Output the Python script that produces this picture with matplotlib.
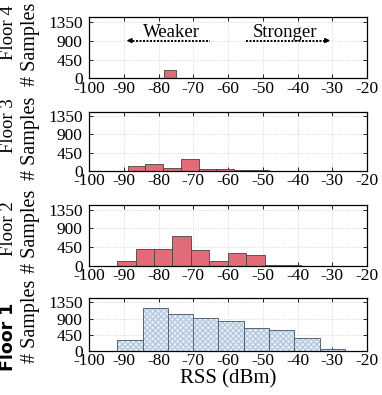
import numpy as np
import matplotlib
matplotlib.use('Agg')
import matplotlib.pyplot as plt

plt.rcParams['font.family'] = ['Liberation Serif', 'DejaVu Serif']
plt.rcParams['axes.unicode_minus'] = False

# RSS histograms per floor (left bin edge, bin width, sample count)
floor4_left = [-87.9, -84.7, -81.5, -78.3, -75.1, -71.9, -68.7]
floor4_width = 3.2
floor4_count = [6, 5, 3, 210, 0, 3, 2]

floor3_left = [-88.9, -83.8, -78.7, -73.6, -68.5, -63.4, -58.3, -53.2, -48.1, -43.0]
floor3_width = 5.1
floor3_count = [113, 162, 81, 299, 48, 40, 24, 16, 0, 8]

floor2_left = [-91.9, -86.6, -81.3, -76.0, -70.7, -65.4, -60.1, -54.8, -49.5, -44.2]
floor2_width = 5.3
floor2_count = [115, 407, 391, 721, 384, 115, 307, 253, 15, 8]

floor1_left = [-91.9, -84.6, -77.4, -70.1, -62.8, -55.5, -48.2, -40.9, -33.6]
floor1_width = 7.3
floor1_count = [318, 1182, 1032, 926, 847, 644, 582, 353, 44]

floor_names = ['Floor 4', 'Floor 3', 'Floor 2', 'Floor 1']
xticks = np.arange(-100, -19, 10)
yticks = [0, 450, 900, 1350]

red = '#e36b78'
edge = '#444444'

fig = plt.figure(figsize=(3.82, 3.95), dpi=100)
left, width = 0.233, 0.728
boxes = [(0.8013, 0.1557), (0.5671, 0.150), (0.3278, 0.153), (0.1114, 0.133)]
axes = [fig.add_axes([left, b, width, h]) for b, h in boxes]

for ax in axes:
    ax.set_xlim(-100, -20)
    ax.set_ylim(0, 1460)
    ax.set_xticks(xticks)
    ax.set_yticks(yticks)
    ax.tick_params(direction='in', top=True, right=True, labelsize=12.5,
                   length=3, width=0.6)
    ax.tick_params(axis='x', pad=1.5)
    ax.tick_params(axis='y', pad=4.5)
    ax.grid(True, linestyle=':', color='#cccccc', lw=0.6)
    ax.set_axisbelow(True)
    for s in ax.spines.values():
        s.set_linewidth(0.9)

# Floor 4
ax = axes[0]
ax.bar(floor4_left, floor4_count, width=floor4_width, align='edge',
       color=red, edgecolor=edge, lw=0.6)
ax.plot([-88.5, -65.2], [900, 900], ls=(0, (1, 0.8)), color='k', lw=1.4)
ax.annotate('', xy=(-90, 900), xytext=(-87.5, 900),
            arrowprops=dict(arrowstyle='-|>', color='k', lw=1, mutation_scale=7))
ax.plot([-54.8, -31.5], [900, 900], ls=(0, (1, 0.8)), color='k', lw=1.4)
ax.annotate('', xy=(-29.8, 900), xytext=(-32.5, 900),
            arrowprops=dict(arrowstyle='-|>', color='k', lw=1, mutation_scale=7))
ax.text(-76.2, 1090, 'Weaker', ha='center', va='center', fontsize=13.5)
ax.text(-43.5, 1090, 'Stronger', ha='center', va='center', fontsize=13.5)

# Floor 3 and 2
axes[1].bar(floor3_left, floor3_count, width=floor3_width, align='edge',
            color=red, edgecolor=edge, lw=0.6)
axes[2].bar(floor2_left, floor2_count, width=floor2_width, align='edge',
            color=red, edgecolor=edge, lw=0.6)

# Floor 1 (hatched)
ax = axes[3]
ax.bar(floor1_left, floor1_count, width=floor1_width, align='edge',
       color='#e8f0f8', edgecolor='#b6c9de', hatch='xxxxxx', lw=0)
ax.bar(floor1_left, floor1_count, width=floor1_width, align='edge',
       fill=False, edgecolor='#56657a', lw=0.7)
ax.set_xlabel('RSS (dBm)', fontsize=15, labelpad=0)

# y labels: floor name + "# Samples"
name_y = [33, 126, 229, 337]   # label centres in pixels from the top
for i, (b, h) in enumerate(boxes):
    yc = b + h / 2 + 3.5 / 395
    fig.text(0.079, yc, '# Samples', rotation=90, ha='center', va='center',
             fontsize=14.5)
    if i < 3:
        fig.text(0.022, 1 - name_y[i] / 395, floor_names[i], rotation=90,
                 ha='center', va='center', fontsize=13.5)
    else:
        fig.text(0.022, 1 - name_y[i] / 395, floor_names[i], rotation=90,
                 ha='center', va='center', fontsize=12.5, fontweight='bold',
                 family='DejaVu Sans')

fig.savefig('out.png', dpi=100)
